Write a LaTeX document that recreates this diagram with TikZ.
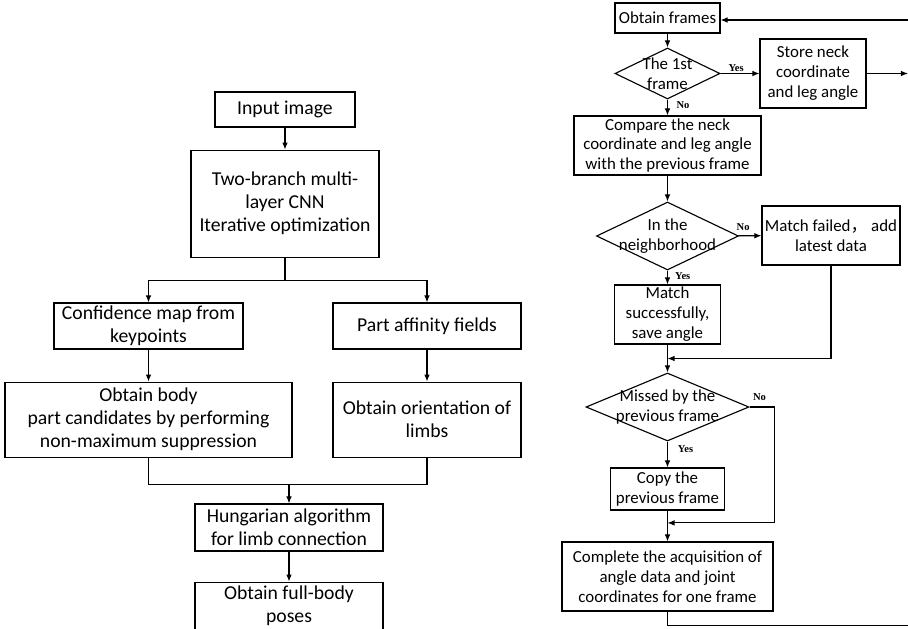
\documentclass[tikz,border=0pt]{standalone}
\usepackage{fontspec}
\setmainfont{Carlito}
\newfontfamily\cjk{Noto Sans CJK SC}
\newfontfamily\labfont{Liberation Serif}
\usetikzlibrary{arrows.meta,positioning,shapes.geometric}

\begin{document}
\begin{tikzpicture}[
  x=0.025cm, y=-0.025cm,
  >={Latex[length=5pt,width=4pt]},
  every node/.style={font=\fontsize{14}{16.4}\selectfont},
  box/.style={draw, line width=0.8pt, align=center, inner sep=1pt},
  sz/.style 2 args={minimum width=#1*0.025cm, minimum height=#2*0.025cm},
  rbox/.style={box, font=\fontsize{12}{14.2}\selectfont},
  dec/.style={draw, line width=0.8pt, diamond, inner sep=0pt},
  dtext/.style={align=center, font=\fontsize{12}{14.2}\selectfont},
  lab/.style={font=\labfont\bfseries\fontsize{7.5}{8}\selectfont, inner sep=1pt},
  line/.style={line width=0.8pt}
]
\useasboundingbox (0,0) rectangle (908,629);

\node[box, sz={140}{35}] (input) at (285,109.5) {Input image};
\node[box, sz={188}{107}, below=0.55cm of input] (cnn) {Two-branch multi-\\layer CNN\\Iterative optimization};
\node[box, sz={189}{46}] (conf) at (148.5,326) {Confidence map from\\keypoints};
\node[box, sz={188}{46}] (paf) at (427,326) {Part affinity fields};
\node[box, sz={287}{75}, below=0.8cm of conf] (body) {Obtain body\\part candidates by performing\\non-maximum suppression};
\node[box, sz={188}{75}, below=0.8cm of paf] (orient) {Obtain orientation of\\limbs};
\node[box, sz={188}{47}] (hung) at (289,527.5) {Hungarian algorithm\\for limb connection};
\node[box, sz={188}{47}, below=0.75cm of hung] (pose) {Obtain full-body\\poses};

\draw[line,->] (input) -- (cnn);
\draw[line,->] (cnn.south) -- ++(0,23) coordinate (split) -| (conf.north);
\draw[line,->] (split) -| (paf.north);
\draw[line,->] (conf) -- (body);
\draw[line,->] (paf) -- (orient);
\draw[line] (body.south) -- ++(0,27) coordinate (mj) -| (orient.south);
\draw[line,->] (mj -| hung.north) -- (hung.north);
\draw[line,->] (hung) -- (pose);

\node[rbox, sz={105}{30}] (frames) at (667.5,18) {Obtain frames};
\node[dec, sz={105}{51}, label={[dtext]center:The 1st\\frame}] (d1) at (667.5,73.5) {};
\node[rbox, sz={106}{69}] (store) at (813,73.5) {Store neck\\coordinate\\and leg angle};
\node[rbox, sz={187}{59}] (cmp) at (667.5,145.5) {Compare the neck\\coordinate and leg angle\\with the previous frame};
\node[dec, sz={142}{68}, label={[dtext]center:In the\\neighborhood}] (d2) at (667.5,236) {};
\node[rbox, sz={138}{59}] (fail) at (831,235.5) {Match failed{\cjk ，}\ add\\latest data};
\node[rbox, sz={106}{59}] (succ) at (667.5,314.5) {Match\\successfully,\\save angle};
\node[dec, sz={163}{68}, label={[dtext]center:Missed by the\\previous frame}] (d3) at (667.5,407) {};
\node[rbox, sz={114}{42}] (copy) at (667.5,489) {Copy the\\previous frame};
\node[rbox, sz={211}{69}] (done) at (667.5,576.5) {Complete the acquisition of\\angle data and joint\\coordinates for one frame};

\coordinate (rim) at (908,0);

\draw[line,->] (rim |- 0,20) -- (frames.east |- 0,20);
\draw[line,->] (frames) -- (d1);
\draw[line,->] (d1) -- node[lab, above, pos=0.4]{Yes} (store);
\draw[line,->] (store) -- (store -| rim);
\draw[line,->] (d1) -- node[lab, right=5pt, pos=0.35]{No} (cmp);
\draw[line,->] (cmp) -- (d2);
\draw[line,->] (d2) -- node[lab, above=2pt, pos=0.2]{No} (fail);
\draw[line,->] (d2) -- node[lab, right=4pt, pos=0.4]{Yes} (succ);
\draw[line,->] (succ) -- coordinate[midway] (j1) (d3);
\draw[line,->] (fail.south) |- (j1);
\draw[line,->] (d3) -- node[lab, right=6pt, pos=0.3]{Yes} (copy);
\draw[line,->] (copy) -- coordinate[pos=0.4] (j2) (done);
\draw[line,->] (d3.east) -- node[lab, above=3pt, pos=0.4]{No} ++(25,0) |- (j2);
\draw[line] (done.south) -- ++(0,14) coordinate (lp) -- (lp -| rim);
\end{tikzpicture}
\end{document}
